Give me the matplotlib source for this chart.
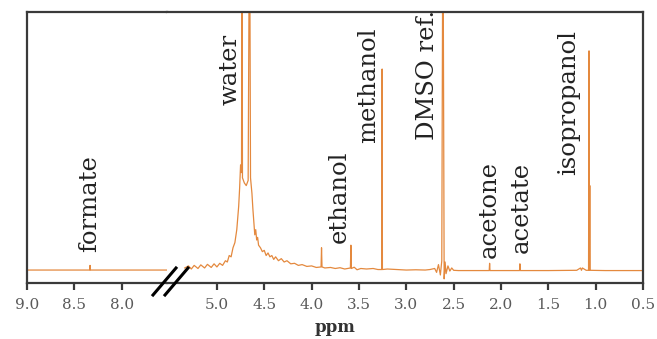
import numpy as np
import matplotlib
matplotlib.use("Agg")
import matplotlib.pyplot as plt
from matplotlib.lines import Line2D

# spectrum, left part (before the axis break)
left_ppm = [9.0, 8.7, 8.4, 8.338, 8.335, 8.332, 8.1, 7.8, 7.52]
left_int = [0.004, 0.004, 0.004, 0.004, 0.022, 0.004, 0.004, 0.004, 0.004]

# spectrum, right part (after the axis break)
right_ppm = [5.34, 5.30, 5.27, 5.24, 5.20, 5.17, 5.13, 5.10, 5.06, 5.03, 5.00, 4.97,
             4.94, 4.91, 4.89, 4.87, 4.85, 4.83, 4.81, 4.79, 4.77, 4.76, 4.75, 4.74,
             4.735, 4.73, 4.71, 4.69, 4.67, 4.655, 4.645, 4.63, 4.62, 4.61, 4.60, 4.59,
             4.58, 4.57, 4.56, 4.54, 4.52, 4.50, 4.48, 4.46, 4.44, 4.42, 4.40, 4.38,
             4.35, 4.32, 4.29, 4.26, 4.22, 4.18, 4.14, 4.10, 4.05, 4.00, 3.95, 3.90,
             3.895, 3.89, 3.86, 3.80, 3.75, 3.70, 3.65, 3.59, 3.585, 3.58, 3.55, 3.52,
             3.48, 3.42, 3.35, 3.30, 3.258, 3.255, 3.252, 3.20, 3.10, 3.00, 2.90, 2.80,
             2.75, 2.70, 2.68, 2.66, 2.64, 2.625, 2.613, 2.60, 2.59, 2.58, 2.56, 2.54,
             2.52, 2.50, 2.45, 2.30, 2.124, 2.12, 2.116, 2.0, 1.804, 1.80, 1.796, 1.5,
             1.20, 1.16, 1.15, 1.14, 1.10, 1.075, 1.07, 1.066, 1.062, 1.058, 0.9, 0.5]
right_int = [0.012, 0.020, 0.008, 0.022, 0.010, 0.024, 0.012, 0.026, 0.014, 0.028, 0.016, 0.030,
             0.022, 0.040, 0.035, 0.060, 0.055, 0.090, 0.110, 0.160, 0.250, 0.320, 0.410, 0.380,
             1.5, 0.36, 0.34, 0.33, 0.35, 1.5, 0.36, 0.30, 0.24, 0.19, 0.14, 0.16,
             0.12, 0.13, 0.10, 0.09, 0.075, 0.08, 0.06, 0.07, 0.055, 0.06, 0.045, 0.055,
             0.040, 0.048, 0.035, 0.040, 0.028, 0.030, 0.022, 0.025, 0.018, 0.020, 0.014, 0.016,
             0.09, 0.016, 0.012, 0.014, 0.010, 0.013, 0.008, 0.012, 0.10, 0.010, 0.015, 0.005,
             0.010, 0.008, 0.010, 0.006, 0.006, 0.78, 0.006, 0.008, 0.006, 0.004, 0.005, 0.004,
             0.006, 0.010, -0.005, 0.025, -0.015, 0.04, 1.5, -0.03, 0.035, -0.01, 0.02, 0.0,
             0.012, 0.003, 0.002, 0.002, 0.002, 0.03, 0.002, 0.002, 0.002, 0.028, 0.002, 0.002,
             0.003, 0.012, 0.003, 0.012, 0.003, 0.003, 0.85, 0.003, 0.33, 0.003, 0.002, 0.002]

# labels: (text, ppm, bottom of text)
labels_left = [("formate", 8.335, 0.073)]
labels_right = [("water", 4.863, 0.641),
                ("ethanol", 3.713, 0.108),
                ("methanol", 3.397, 0.494),
                ("DMSO ref.", 2.774, 0.506),
                ("acetone", 2.120, 0.050),
                ("acetate", 1.783, 0.069),
                ("isopropanol", 1.287, 0.371)]

left_ticks = [9.0, 8.5, 8.0]
right_ticks = [5.0, 4.5, 4.0, 3.5, 3.0, 2.5, 2.0, 1.5, 1.0, 0.5]

line_color = "#E4893E"
spine_color = "#3a3a3a"
tick_color = "#5a5a5a"
serif = "DejaVu Serif"

fig = plt.figure(figsize=(6.57, 3.39), dpi=100)
W, H = 657, 339
bot = (H - 283) / H
hgt = (283 - 12) / H
ax1 = fig.add_axes([27 / W, bot, 140 / W, hgt])
ax2 = fig.add_axes([167 / W, bot, 476 / W, hgt])

ax1.plot(left_ppm, left_int, color=line_color, lw=0.9)
ax2.plot(right_ppm, right_int, color=line_color, lw=0.9)

ax1.set_xlim(9.0, 7.523)
ax2.set_xlim(5.527, 0.5)
for ax in (ax1, ax2):
    ax.set_ylim(-0.046, 1.0)
    ax.set_yticks([])
    for s in ax.spines.values():
        s.set_color(spine_color)
        s.set_linewidth(1.6)
    ax.tick_params(axis="x", direction="out", length=5, width=1.6,
                   color=spine_color, labelsize=11, labelcolor=tick_color, pad=6)
ax1.spines["right"].set_visible(False)
ax2.spines["left"].set_visible(False)

ax1.set_xticks(left_ticks)
ax1.set_xticklabels([f"{t:.1f}" for t in left_ticks], fontfamily=serif)
ax2.set_xticks(right_ticks)
ax2.set_xticklabels([f"{t:.1f}" for t in right_ticks], fontfamily=serif)

for txt, x, y in labels_left:
    ax1.text(x, y, txt, rotation=90, ha="center", va="bottom",
             fontsize=17.5, fontfamily=serif, color="#222222")
for txt, x, y in labels_right:
    ax2.text(x, y, txt, rotation=90, ha="center", va="bottom",
             fontsize=17.5, fontfamily=serif, color="#222222")

fig.text(335 / W, 1 - 327 / H, "ppm", ha="center", va="center",
         fontsize=12, fontweight="bold", fontfamily=serif, color="#333333")

# axis break marks
for x0 in (153, 165):
    fig.add_artist(Line2D([x0 / W, (x0 + 23) / W], [1 - 295 / H, 1 - 268 / H],
                          color="black", lw=2.2))

fig.savefig("out.png", dpi=100)
